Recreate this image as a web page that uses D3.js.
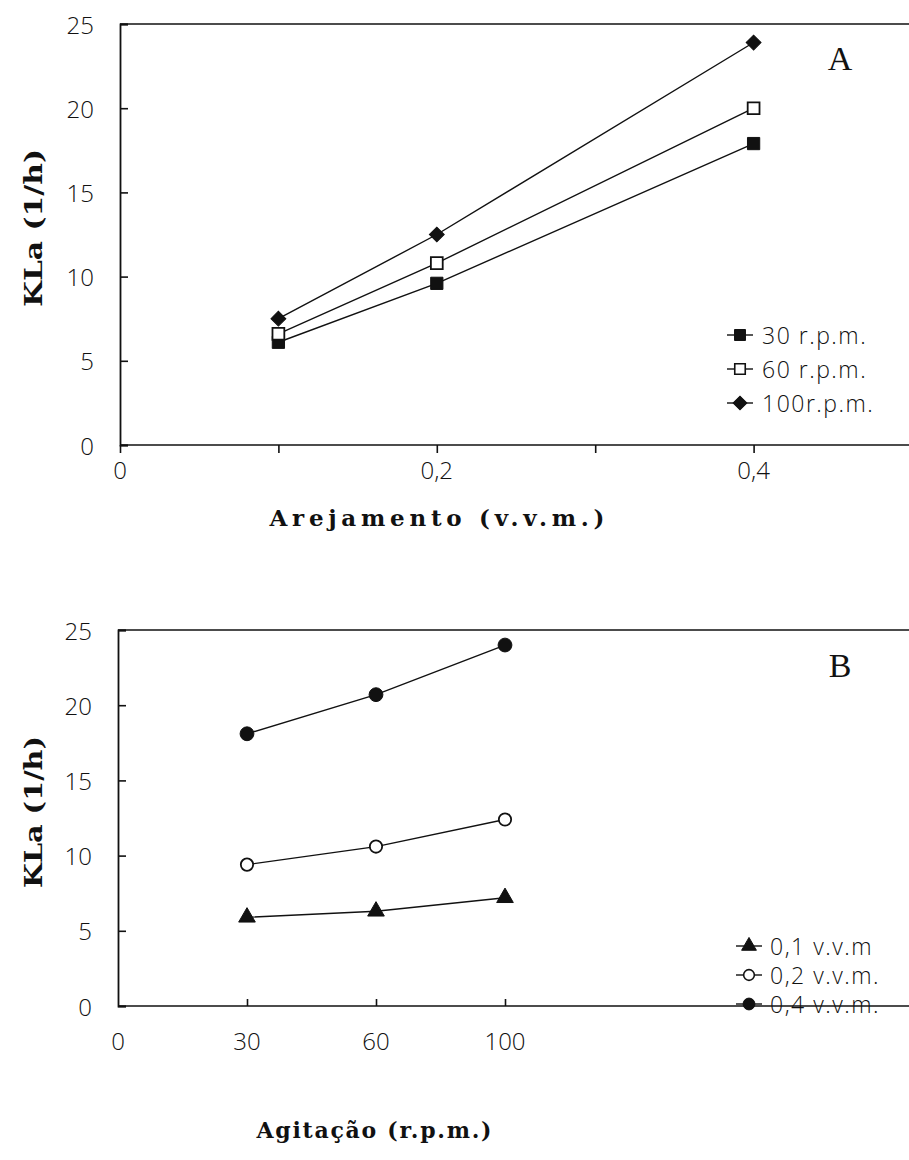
<!DOCTYPE html>
<html>
<head>
<meta charset="utf-8">
<script src="https://cdn.jsdelivr.net/npm/d3@7"></script>
<style>
  html, body { margin: 0; padding: 0; background: #fff; }
  svg { display: block; }
  .tick-label { font-family: "Open Sans", "DejaVu Sans", sans-serif; font-weight: 300; font-size: 24px; fill: #111; }
  .axis-title { font-family: "DejaVu Serif", "Liberation Serif", serif; font-weight: bold; font-size: 22px; fill: #111; }
  .legend-text { font-family: "Open Sans", "DejaVu Sans", sans-serif; font-weight: 300; font-size: 23px; fill: #111; letter-spacing: 1.5px; }
  .panel-label { font-family: "Liberation Serif", "DejaVu Serif", serif; font-size: 34px; fill: #111; }
</style>
</head>
<body>
<script>
// ---------- Data ----------
// Panel A: KLa vs aeration (v.v.m.) for three agitation speeds
const aeration = [0.1, 0.2, 0.4];
const rpm30 = [6.1, 9.6, 17.9];
const rpm60 = [6.6, 10.8, 20.0];
const rpm100 = [7.5, 12.5, 23.9];
const seriesNamesA = ["30 r.p.m.", "60 r.p.m.", "100r.p.m."];

// Panel B: KLa vs agitation (r.p.m.) for three aeration rates
const agitation = ["30", "60", "100"];
const vvm01 = [5.9, 6.3, 7.2];
const vvm02 = [9.4, 10.6, 12.4];
const vvm04 = [18.1, 20.7, 24.0];
const seriesNamesB = ["0,1 v.v.m", "0,2 v.v.m.", "0,4 v.v.m."];

// Ticks
const yTicks = [0, 5, 10, 15, 20, 25];
const xTicksA = [0, 0.1, 0.2, 0.3, 0.4];
const xTickLabelsA = ["0", "", "0,2", "", "0,4"];
const xTicksB = ["0", "30", "60", "100"];

const yTitle = "KLa (1/h)";
const xTitleA = "Arejamento (v.v.m.)";
const xTitleB = "Agitação (r.p.m.)";

// ---------- Drawing ----------
const W = 909, H = 1160;
const svg = d3.select("body").append("svg").attr("width", W).attr("height", H);

function drawPanel(cfg) {
  const g = svg.append("g");
  const x = cfg.x, y = cfg.y;
  const x0 = cfg.left, xr = cfg.right;
  const yTop = y.range()[1], yBot = y.range()[0];

  g.append("line").attr("x1", x0).attr("x2", xr).attr("y1", yTop).attr("y2", yTop)
    .attr("stroke", "#111").attr("stroke-width", 1.6);

  const yAxis = d3.axisRight(y).tickValues(yTicks).tickSize(8).tickFormat("");
  const ya = g.append("g").attr("transform", `translate(${x0},0)`).call(yAxis);
  ya.select(".domain").attr("stroke", "#111").attr("stroke-width", 1.8);
  ya.selectAll(".tick line").attr("stroke", "#111").attr("stroke-width", 1.6);
  g.selectAll(".ylab").data(yTicks).enter().append("text")
    .attr("class", "tick-label").attr("x", x0 - 26).attr("y", d => y(d))
    .attr("text-anchor", "end").attr("dominant-baseline", "central").text(d => d);

  g.append("line").attr("x1", x0).attr("x2", xr).attr("y1", yBot).attr("y2", yBot)
    .attr("stroke", "#111").attr("stroke-width", 1.6);
  const xa = g.append("g").attr("transform", `translate(0,${yBot})`).call(cfg.xAxis);
  xa.select(".domain").remove();
  xa.selectAll(".tick line").attr("stroke", "#111").attr("stroke-width", 1.6);
  xa.selectAll(".tick text").remove();
  g.selectAll(".xlab").data(cfg.xTickVals).enter().append("text")
    .attr("class", "tick-label").attr("x", d => x(d)).attr("y", yBot + cfg.xLabelOffset)
    .attr("text-anchor", "middle").attr("dominant-baseline", "central")
    .text((d, i) => cfg.xTickLabels[i]);

  g.append("text").attr("class", "axis-title")
    .attr("transform", `translate(${cfg.yTitleX},${cfg.yTitleY}) rotate(-90)`)
    .attr("text-anchor", "middle").attr("dominant-baseline", "central")
    .attr("textLength", cfg.yTitleLen).attr("lengthAdjust", "spacingAndGlyphs")
    .style("font-size", "24px")
    .text(yTitle);
  g.append("text").attr("class", "axis-title")
    .attr("x", cfg.xTitleX).attr("y", cfg.xTitleY)
    .attr("text-anchor", "middle").attr("dominant-baseline", "central")
    .attr("textLength", cfg.xTitleLen).attr("lengthAdjust", "spacing")
    .style("font-size", cfg.xTitleSize + "px")
    .text(cfg.xTitle);

  g.append("text").attr("class", "panel-label")
    .attr("x", cfg.panelX).attr("y", cfg.panelY)
    .attr("text-anchor", "middle").attr("dominant-baseline", "central")
    .text(cfg.panel);

  const line = d3.line().x(d => x(d[0])).y(d => y(d[1]));
  cfg.series.forEach(s => {
    const pts = cfg.xs.map((xv, i) => [xv, s.values[i]]);
    g.append("path").datum(pts).attr("d", line)
      .attr("fill", "none").attr("stroke", "#111").attr("stroke-width", 1.4);
    g.selectAll(null).data(pts).enter().append("path")
      .attr("d", d3.symbol().type(s.symbol).size(s.size))
      .attr("transform", d => `translate(${x(d[0])},${y(d[1])}) rotate(${s.rot || 0})`)
      .attr("fill", s.fill).attr("stroke", "#111").attr("stroke-width", s.fill === "#fff" ? 1.8 : 1);
  });

  cfg.series.forEach((s, i) => {
    const ly = cfg.legendY + i * cfg.legendStep;
    const lx = cfg.legendX;
    g.append("line").attr("x1", lx - 13).attr("x2", lx + 13).attr("y1", ly).attr("y2", ly)
      .attr("stroke", "#111").attr("stroke-width", 1.4);
    g.append("path").attr("d", d3.symbol().type(s.symbol).size(s.legendSize))
      .attr("transform", `translate(${lx},${ly}) rotate(${s.rot || 0})`)
      .attr("fill", s.fill).attr("stroke", "#111").attr("stroke-width", s.fill === "#fff" ? 1.6 : 1);
    g.append("text").attr("class", "legend-text")
      .attr("x", lx + cfg.legendGap).attr("y", ly).attr("dominant-baseline", "central")
      .text(s.name);
  });
}

// Panel A
const xA = d3.scaleLinear().domain([0, 0.5]).range([120, 912]);
const yA = d3.scaleLinear().domain([0, 25]).range([445, 24]);
drawPanel({
  x: xA, y: yA, left: 120, right: 912,
  xAxis: d3.axisBottom(xA).tickValues(xTicksA).tickSize(8).tickFormat(""),
  xTickVals: xTicksA.filter((d, i) => xTickLabelsA[i] !== ""),
  xTickLabels: xTickLabelsA.filter(d => d !== ""),
  xLabelOffset: 24,
  yTitleX: 33, yTitleY: 228, yTitleLen: 158,
  xTitle: xTitleA, xTitleX: 437, xTitleY: 517, xTitleLen: 335, xTitleSize: 23,
  panel: "A", panelX: 840, panelY: 58,
  xs: aeration,
  series: [
    { name: seriesNamesA[0], values: rpm30, symbol: d3.symbolSquare, size: 150, legendSize: 120, fill: "#111" },
    { name: seriesNamesA[1], values: rpm60, symbol: d3.symbolSquare, size: 140, legendSize: 110, fill: "#fff" },
    { name: seriesNamesA[2], values: rpm100, symbol: d3.symbolSquare, size: 110, legendSize: 95, fill: "#111", rot: 45 }
  ],
  legendX: 740, legendY: 335, legendStep: 34, legendGap: 22
});

// Panel B
const xB = d3.scalePoint().domain(xTicksB).range([118, 505]);
const yB = d3.scaleLinear().domain([0, 25]).range([1006, 630]);
drawPanel({
  x: xB, y: yB, left: 118, right: 912,
  xAxis: d3.axisTop(xB).tickValues(xTicksB.slice(1)).tickSize(7).tickFormat(""),
  xTickVals: xTicksB,
  xTickLabels: xTicksB,
  xLabelOffset: 34,
  yTitleX: 33, yTitleY: 812, yTitleLen: 152,
  xTitle: xTitleB, xTitleX: 374, xTitleY: 1130, xTitleLen: 235, xTitleSize: 22,
  panel: "B", panelX: 840, panelY: 665,
  xs: agitation,
  series: [
    { name: seriesNamesB[0], values: vvm01, symbol: d3.symbolTriangle, size: 120, legendSize: 95, fill: "#111" },
    { name: seriesNamesB[1], values: vvm02, symbol: d3.symbolCircle, size: 120, legendSize: 90, fill: "#fff" },
    { name: seriesNamesB[2], values: vvm04, symbol: d3.symbolCircle, size: 150, legendSize: 110, fill: "#111" }
  ],
  legendX: 749, legendY: 946, legendStep: 29, legendGap: 21
});
</script>
</body>
</html>
